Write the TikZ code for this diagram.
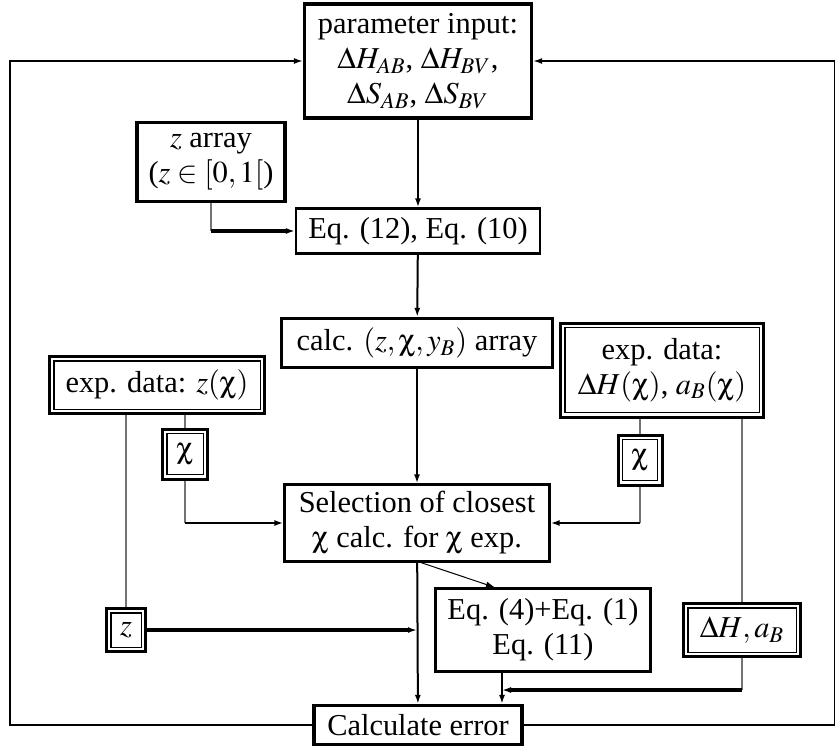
\documentclass[tikz,border=0pt]{standalone}
\usepackage{mathptmx}
\usepackage{pifont}
\usepackage[no-math]{fontspec}
\setmainfont{Liberation Serif}
\usetikzlibrary{arrows.meta,calc}
\newcommand{\chx}{\mbox{\Pisymbol{psy}{99}}}

\begin{document}
\begin{tikzpicture}[x=0.5pt, y=-0.5pt,
  every node/.style={align=center, inner sep=0pt, font=\fontsize{15.2}{17.5}\selectfont},
  box/.style={draw, line width=1.1pt},
  heavybox/.style={draw, line width=1.6pt},
  dbox/.style={draw, line width=1.5pt, path picture={
      \draw[line width=0.6pt] ([shift={(2.2pt,2.2pt)}]path picture bounding box.south west)
        rectangle ([shift={(-2.2pt,-2.2pt)}]path picture bounding box.north east);}},
  flow/.style={-{Latex[length=4.5pt,width=3pt]}, line width=1pt},
  feed/.style={-{Latex[length=4.5pt,width=3pt]}, line width=1.6pt},
  dataline/.style={draw=black!55, line width=0.6pt},
  loopline/.style={-{Latex[length=4.5pt,width=3pt]}, line width=0.8pt}]
  \useasboundingbox (0,0) rectangle (835,746);

  % main column
  \node[heavybox, minimum width=113.5pt, minimum height=57pt] (param) at (418,61)
    {parameter input:\\$\Delta H_{AB}$, $\Delta H_{BV}$,\\$\Delta S_{AB}$, $\Delta S_{BV}$};
  \node[heavybox, minimum width=74pt, minimum height=39.5pt] (zarr) at (211,162)
    {$z$ array\\($z\in[0,1[$)};
  \node[box, minimum width=122pt, minimum height=22.5pt] (eqa) at (418,231) {Eq. (12), Eq. (10)};
  \node[heavybox, minimum width=135.5pt, minimum height=24.5pt] (calc) at (417,343) {calc. $(z,\chx,y_B)$ array};
  \node[box, minimum width=132.5pt, minimum height=38.5pt] (sel) at (417,523)
    {Selection of closest\\$\chx$ calc. for $\chx$ exp.};
  \node[box, minimum width=107.5pt, minimum height=41.5pt] (eqb) at (543,630) {Eq. (4)+Eq. (1)\\Eq. (11)};
  \node[heavybox, minimum width=104pt, minimum height=19.5pt] (err) at (418,725) {Calculate error};

  % experimental data
  \node[dbox, minimum width=107.5pt, minimum height=28.5pt] (expz) at (157,385) {exp. data: $z(\chx)$};
  \node[dbox, minimum width=101.5pt, minimum height=47pt] (exph) at (662,370)
    {exp. data:\\$\Delta H(\chx)$, $a_B(\chx)$};
  \node[dbox, minimum width=22.5pt, minimum height=25pt] (chil) at (185,454) {$\chx$};
  \node[dbox, minimum width=22pt, minimum height=25pt] (chir) at (640,460) {$\chx$};
  \node[dbox, minimum width=19.5pt, minimum height=21.5pt] (zz) at (126,630) {$z$};
  \node[dbox, minimum width=58.5pt, minimum height=26.5pt] (hab) at (742,630) {$\Delta H, a_B$};

  \coordinate (zc) at (zarr.south |- eqa.west);
  \coordinate (cl) at (chil |- sel.west);
  \coordinate (cr) at (chir |- sel.east);
  \coordinate (eb) at ($(eqb.south)+(-41,0)$);
  \coordinate (hc) at (742,690);
  \coordinate (lc) at (10,61);
  \coordinate (rc) at (835,61);

  % arrows
  \draw[flow] (param) -- (eqa);
  \draw[dataline] (zarr) -- (zc);
  \draw[feed] (zc) -- (eqa);
  \draw[flow] (eqa) -- (calc);
  \draw[flow] (calc) -- (sel);
  \draw[dataline] (expz.south -| zz) -- (zz);
  \draw[dataline] (expz.south -| chil) -- (chil);
  \draw[dataline] (chil) -- (cl);
  \draw[flow] (cl) -- (sel);
  \draw[dataline] (exph.south -| chir) -- (chir);
  \draw[dataline] (chir) -- (cr);
  \draw[flow] (cr) -- (sel);
  \draw[dataline] (exph.south -| hab) -- (hab);
  \draw[flow] (sel) -- (err);
  \draw[-{Latex[length=4.5pt,width=3pt]}, line width=0.5pt] ([xshift=2pt]sel.south) -- ($(eqb.north)+(-48,0)$);
  \draw[feed] (zz) -- (zz -| sel.south);
  \draw[flow] (eb) -- (err.north -| eb);
  \draw[dataline] (hab) -- (hc);
  \draw[feed] (hc) -- (hc -| eb);

  % feedback loop
  \draw[loopline] (err) -| (lc) -- (param);
  \draw[loopline] (err) -| (rc) -- (param);
\end{tikzpicture}
\end{document}
